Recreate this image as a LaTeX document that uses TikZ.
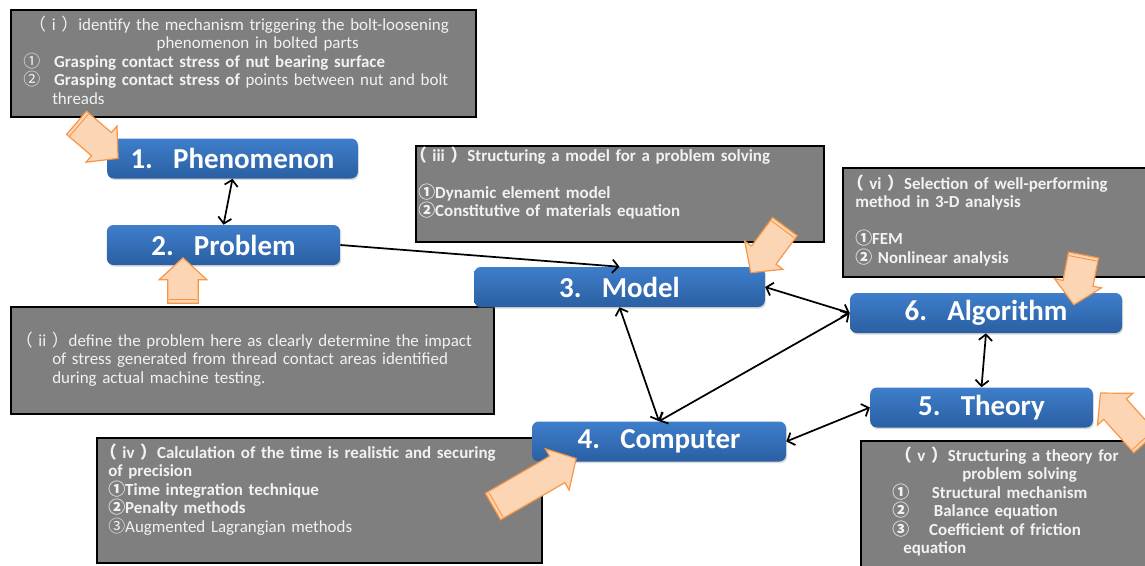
\documentclass[tikz,border=0pt]{standalone}
\usepackage{fontspec}
\setmainfont{Carlito}
\newfontfamily\cjk{Noto Sans CJK JP}
\usetikzlibrary{shapes.arrows,shadows,arrows.meta,calc}

\definecolor{stagetop}{RGB}{62,126,203}
\definecolor{stagebot}{RGB}{42,95,162}
\definecolor{notefill}{RGB}{127,127,127}
\definecolor{notetext}{RGB}{242,242,242}
\definecolor{hintfill}{RGB}{252,213,180}
\definecolor{hintdraw}{RGB}{247,150,70}

\newcommand{\infofont}{\fontsize{12.7}{13.9}\selectfont}
% roman step number in wide brackets, circled item number
\newcommand{\rnum}[1]{\hspace*{-0.5em}{\cjk （} #1 {\cjk ）}}
\newcommand{\cnum}[1]{{\cjk #1}}
% second edge just inside the tail of a pointer
\newcommand{\tailmark}[1]{%
  \draw[hintdraw,line width=0.7pt]
    ($($(#1.tail)!3pt!(#1.tip)$)!10.6pt!90:(#1.tip)$) --
    ($($(#1.tail)!3pt!(#1.tip)$)!10.6pt!-90:(#1.tip)$);}

\tikzset{
  stage/.style={rounded corners=5pt,top color=stagetop,bottom color=stagebot,text=white,
    font=\fontsize{21.7}{21.7}\selectfont\bfseries,minimum height=30pt,
    drop shadow={shadow xshift=0.8pt,shadow yshift=-1.2pt,opacity=0.3}},
  note/.style={draw=black,line width=1.8pt,fill=notefill,anchor=north west,inner sep=0pt},
  notetxt/.style={anchor=base west,inner sep=0pt,align=left,text=notetext,font=\infofont},
  hint/.style={single arrow,draw=hintdraw,fill=hintfill,line width=0.9pt,inner xsep=0pt,
    inner ysep=11pt,single arrow head extend=6.4pt,single arrow tip angle=95},
  link/.style={line width=1.3pt,>={Straight Barb[length=4.5pt,width=10pt]}}
}

\begin{document}
\begin{tikzpicture}[x=0.75pt,y=-0.75pt]
	\useasboundingbox (0,0) rectangle (1145,565);
	\clip (0,0) rectangle (1145,565);

	% grey note boxes
	\node[note,minimum width=348.75pt,minimum height=80.25pt] (ni) at (10,9) {};
	\node[note,minimum width=362.25pt,minimum height=80.25pt] (nii) at (10,306) {};
	\node[note,minimum width=306pt,minimum height=72pt] (niii) at (415,145) {};
	\node[note,minimum width=240pt,minimum height=81.75pt] (nvi) at (842,167) {};
	\node[note,minimum width=333.75pt,minimum height=93.75pt] (niv) at (96,437) {};
	\node[note,minimum width=225pt,minimum height=105pt] (nv) at (860,440) {};

	\node[notetxt,text width=330pt] (ti) at (23,30) {%
		\makebox[\linewidth]{\rnum{i}identify the mechanism triggering the bolt-loosening}\\
		\makebox[\linewidth]{\hspace*{21.75pt}phenomenon in bolted parts}\\
		\cnum{①}\hspace{10.5pt}\textbf{Grasping contact stress of nut bearing surface}\\
		\cnum{②}\hspace{10.5pt}\textbf{Grasping contact stress of} points between nut and bolt\\
		\hspace*{21.75pt}threads};
	\node[notetxt,text width=360pt] (tii) at (24,346) {%
		\rnum{ii}define the problem here as clearly determine the impact\\
		\hspace*{21pt}of stress generated from thread contact areas identified\\
		\hspace*{21pt}during actual machine testing.};
	\node[notetxt,text width=300pt,font=\infofont\bfseries] (tiii) at (418,161) {%
		\rnum{iii}Structuring a model for a problem solving\\[13.9pt]
		\cnum{①}Dynamic element model\\
		\cnum{②}Constitutive of materials equation};
	\node[notetxt,text width=280pt,font=\infofont\bfseries] (tvi) at (855,189) {%
		\rnum{vi}Selection of well-performing\\
		method in 3-D analysis\\[13.9pt]
		\cnum{①}FEM\\
		\cnum{②} Nonlinear analysis};
	\node[notetxt,text width=330pt,font=\infofont\bfseries] (tiv) at (108,458) {%
		\rnum{iv}Calculation of the time is realistic and securing\\
		of precision\\
		\cnum{①}Time integration technique\\
		\cnum{②}Penalty methods\\
		{\mdseries\cnum{③}Augmented Lagrangian methods}};
	\node[notetxt,text width=250pt,font=\infofont\bfseries] (tv) at (892,461) {%
		\hspace*{8.25pt}\rnum{v}Structuring a theory for\\
		\hspace*{52.5pt}problem solving\\
		\cnum{①}\hspace{17pt}Structural mechanism\\
		\cnum{②}\hspace{18.5pt}Balance equation\\
		\cnum{③}\hspace{15pt}Coefficient of friction\\
		\hspace*{8.25pt}equation};

	% blue stages
	\node[stage,minimum width=188pt] (phen) at (232.5,158.5) {1.\hspace{0.7em}Phenomenon};
	\node[stage,minimum width=175pt] (prob) at (223.5,245) {2.\hspace{0.7em}Problem};
	\node[stage,minimum width=218pt] (model) at (619.5,287) {3.\hspace{0.7em}Model};
	\node[stage,minimum width=190.5pt] (comp) at (659,441.5) {4.\hspace{0.7em}Computer};
	\node[stage,minimum width=167pt] (theo) at (981.5,407.5) {5.\hspace{0.7em}Theory};
	\node[stage,minimum width=204pt] (algo) at (986,313) {6.\hspace{0.7em}Algorithm};

	\draw[link,<->] (phen.south) -- (prob.north);
	\draw[link,->] (prob.east) -- (model.north);
	\draw[link,<->] (model.east) -- (algo.west);
	\draw[link,<->] (model.south) -- (comp.north);
	\draw[link,<->] (algo.west) -- (comp.north);
	\draw[link,<->] (algo.south) -- (theo.north);
	\draw[link,<->] (comp.east) -- (theo.west);

	% orange pointers from the notes
	\node[hint,minimum height=41pt,rotate=-40.6] (hi) at (92,136) {};
	\node[hint,minimum height=34pt,rotate=90] (hii) at (183,287.5) {};
	\node[hint,minimum height=43pt,rotate=-126.5] (hiii) at (772,244) {};
	\node[hint,minimum height=72pt,rotate=30] (hiv) at (528.5,486) {};
	\node[hint,minimum height=50pt,rotate=132] (hv) at (1127.5,423) {};
	\node[hint,minimum height=38pt,rotate=-101] (hvi) at (1080,273) {};
	\foreach \h in {hi,hii,hiii,hiv,hv,hvi}
		\tailmark{\h};
\end{tikzpicture}
\end{document}
